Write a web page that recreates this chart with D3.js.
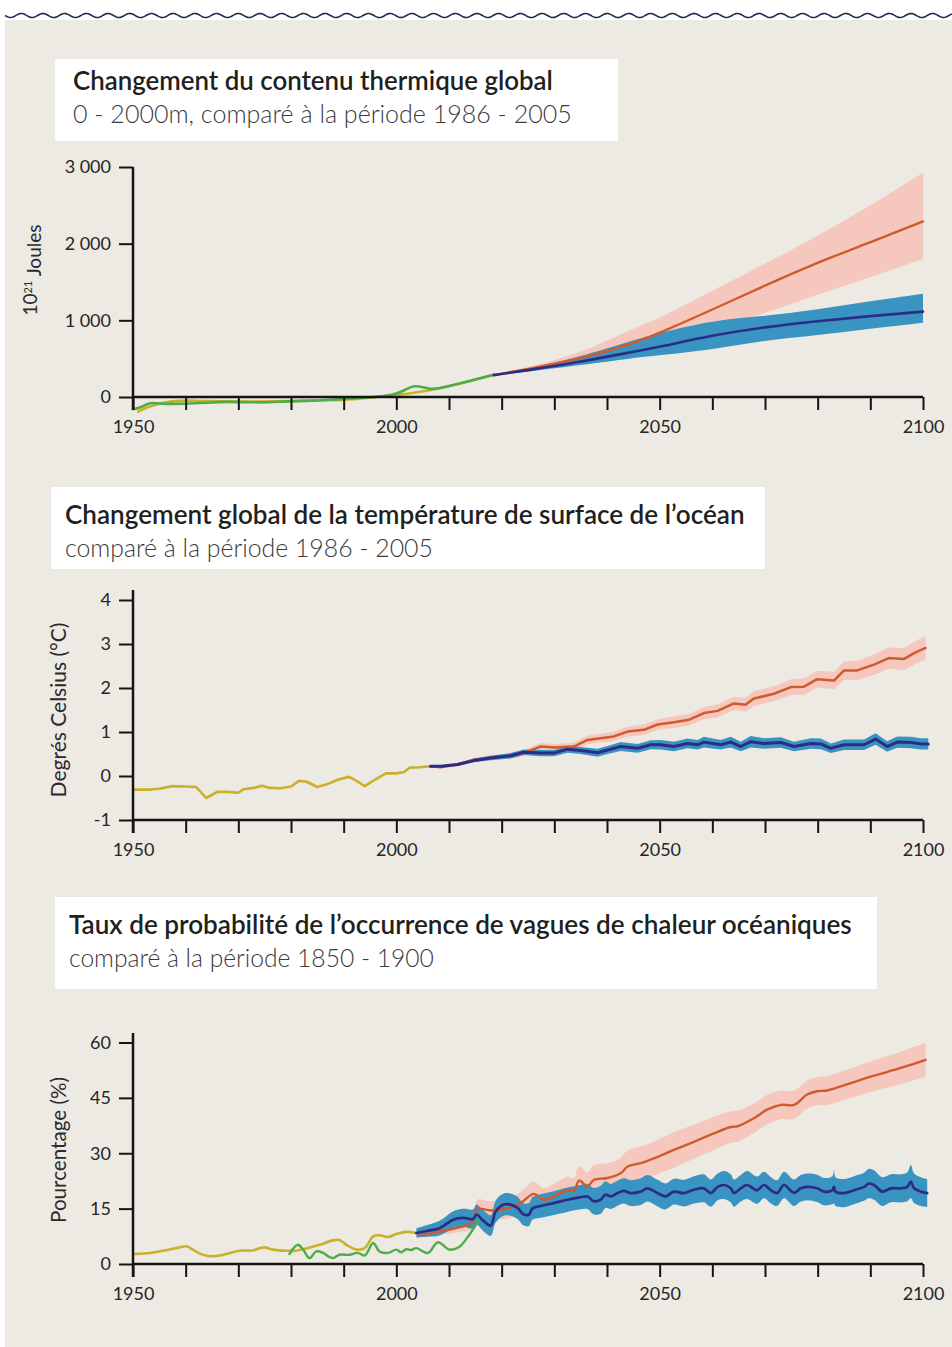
<!DOCTYPE html>
<html>
<head>
<meta charset="utf-8">
<script src="https://cdn.jsdelivr.net/npm/d3@7"></script>
<style>
  body { margin: 0; background: #fff; }
  text { font-family: Lato, "Open Sans", sans-serif; }
</style>
</head>
<body>
<script>
// ---- data : contenu thermique (10^21 J) ----
var ohcYellowYears = [1951, 1953, 1957, 1962, 1967, 1972, 1977, 1982, 1987, 1992, 1996, 2000, 2004, 2008, 2012, 2016, 2018.5];
var ohcYellow = [-190, -120, -50, -45, -60, -60, -55, -50, -45, -30, 0, 25, 60, 110, 170, 240, 290];
var ohcGreenYears = [1950, 1951.5, 1953.2, 1955, 1960, 1964, 1968, 1972, 1976, 1979, 1984, 1989, 1994, 2000, 2002, 2003.5, 2005, 2006.5, 2008, 2011, 2015, 2018.5];
var ohcGreen = [-160, -140, -65, -90, -90, -75, -60, -70, -70, -55, -50, -30, -10, 25, 110, 150, 130, 100, 110, 160, 230, 290];
var ohcProjYears = [2018.5, 2025, 2035, 2045, 2050, 2060, 2070, 2080, 2090, 2100];
var ohcHigh = [285, 365, 500, 697, 835, 1139, 1455, 1757, 2017, 2290];
var ohcHighLo = [285, 345, 441, 620, 700, 900, 1087, 1340, 1560, 1801];
var ohcHighHi = [285, 390, 567, 900, 1022, 1390, 1736, 2104, 2494, 2926];
var ohcLow = [285, 350, 459, 590, 653, 805, 913, 991, 1056, 1113];
var ohcLowLo = [285, 330, 416, 510, 545, 619, 740, 805, 892, 970];
var ohcLowHi = [285, 370, 524, 740, 835, 1000, 1056, 1139, 1251, 1347];
var ohcTicks = [0, 1000, 2000, 3000];
var ohcTickLabels = ["0", "1 000", "2 000", "3 000"];

// ---- data : température de surface (°C) ----
var sstObsYears = [1950, 1953, 1955, 1957.5, 1960, 1962, 1963.9, 1966, 1968, 1970, 1971, 1973, 1974.5, 1976, 1978, 1980, 1981.5, 1983, 1985, 1987, 1989, 1991, 1992, 1994, 1996, 1998, 2000, 2001.5, 2002.5, 2004.5, 2006.5];
var sstObs = [-0.31, -0.31, -0.29, -0.23, -0.24, -0.25, -0.5, -0.36, -0.36, -0.38, -0.3, -0.27, -0.22, -0.27, -0.28, -0.24, -0.11, -0.13, -0.25, -0.18, -0.08, -0.02, -0.08, -0.23, -0.08, 0.06, 0.06, 0.09, 0.19, 0.2, 0.22];
var sstHighYears = [2006.5, 2008.4, 2011.6, 2014.7, 2017.9, 2021.7, 2024.2, 2027.4, 2029.9, 2033.7, 2036.3, 2038.8, 2041.3, 2043.9, 2047.0, 2049.6, 2052.7, 2055.6, 2058.4, 2061.0, 2064.1, 2066.3, 2067.9, 2071.7, 2074.9, 2077.4, 2079.9, 2083.1, 2085.0, 2087.5, 2090.7, 2093.5, 2096.4, 2098.6, 2100.5];
var sstHigh = [0.22, 0.20, 0.26, 0.37, 0.42, 0.46, 0.52, 0.67, 0.65, 0.67, 0.82, 0.86, 0.90, 1.01, 1.05, 1.17, 1.22, 1.28, 1.43, 1.48, 1.65, 1.62, 1.76, 1.87, 2.02, 2.03, 2.20, 2.17, 2.40, 2.40, 2.53, 2.68, 2.66, 2.81, 2.91];
var sstHighSpread = [0.01, 0.02, 0.03, 0.04, 0.05, 0.06, 0.07, 0.08, 0.08, 0.09, 0.10, 0.10, 0.11, 0.11, 0.12, 0.12, 0.13, 0.13, 0.14, 0.15, 0.15, 0.16, 0.17, 0.17, 0.18, 0.19, 0.19, 0.20, 0.21, 0.22, 0.23, 0.24, 0.25, 0.26, 0.27];
var sstLowYears = [2006.5, 2008.4, 2011.6, 2014.7, 2017.9, 2021.7, 2024.2, 2027.4, 2029.9, 2032.5, 2035.0, 2038.2, 2040.1, 2042.6, 2045.8, 2048.3, 2050.2, 2052.7, 2055.3, 2057.2, 2058.4, 2061.6, 2063.5, 2065.4, 2067.3, 2069.8, 2073.0, 2075.5, 2078.7, 2080.6, 2082.5, 2085.0, 2088.8, 2091.0, 2093.2, 2095.1, 2097.7, 2099.6, 2101.0];
var sstLow = [0.22, 0.22, 0.26, 0.35, 0.41, 0.46, 0.54, 0.52, 0.52, 0.61, 0.58, 0.53, 0.59, 0.67, 0.63, 0.71, 0.71, 0.67, 0.74, 0.71, 0.77, 0.71, 0.77, 0.67, 0.78, 0.74, 0.76, 0.67, 0.74, 0.73, 0.63, 0.71, 0.71, 0.84, 0.67, 0.77, 0.76, 0.73, 0.73];
var sstLowSpread = [0.01, 0.02, 0.03, 0.04, 0.05, 0.06, 0.06, 0.07, 0.07, 0.08, 0.08, 0.09, 0.09, 0.10, 0.10, 0.10, 0.11, 0.11, 0.11, 0.11, 0.12, 0.11, 0.12, 0.11, 0.13, 0.12, 0.12, 0.11, 0.12, 0.12, 0.11, 0.12, 0.12, 0.13, 0.12, 0.13, 0.13, 0.13, 0.13];
var sstTicks = [-1, 0, 1, 2, 3, 4];

// ---- data : vagues de chaleur (%) ----
var mhwObsYears = [1950.2, 1953.2, 1956.3, 1958.9, 1960.1, 1961.4, 1962.7, 1964.6, 1966.5, 1968.4, 1970.3, 1972.8, 1974.1, 1975.0, 1976.6, 1979.1, 1981.0, 1982.9, 1985.4, 1988.0, 1989.2, 1990.5, 1992.4, 1994.0, 1995.6, 1996.8, 1998.4, 2000.0, 2001.9, 2003.8];
var mhwObs = [2.7, 3.0, 3.7, 4.5, 4.8, 3.9, 2.8, 2.1, 2.3, 3.0, 3.6, 3.7, 4.3, 4.5, 3.9, 3.6, 3.6, 4.2, 5.2, 6.4, 6.5, 5.2, 3.9, 4.3, 7.5, 7.8, 7.3, 8.1, 8.7, 8.4];
var mhwSatYears = [1979.7, 1981.3, 1982.3, 1983.5, 1984.8, 1986.1, 1987.3, 1988.0, 1989.2, 1991.1, 1992.7, 1994.0, 1995.6, 1996.8, 1998.4, 2000.0, 2000.9, 2001.9, 2002.8, 2003.8, 2006.0, 2007.9, 2010.1, 2012.0, 2013.9, 2015.8, 2016.2];
var mhwSat = [2.7, 5.2, 3.9, 1.6, 3.4, 3.0, 1.9, 1.6, 2.5, 2.5, 3.0, 2.3, 5.7, 3.4, 3.0, 3.9, 3.2, 4.0, 3.8, 4.3, 3.0, 5.9, 3.9, 4.7, 8.0, 12.0, 12.6];
var mhwHighYears = [2004.4, 2008.2, 2012.0, 2013.9, 2014.7, 2015.4, 2017.9, 2021.1, 2023.6, 2026.1, 2028.0, 2030.6, 2032.5, 2033.7, 2034.7, 2036.3, 2037.5, 2040.1, 2042.6, 2043.9, 2046.4, 2048.9, 2052.7, 2056.5, 2060.3, 2063.5, 2064.7, 2067.9, 2070.4, 2073.0, 2075.5, 2078.0, 2079.9, 2081.8, 2086.3, 2090.7, 2095.8, 2100.5];
var mhwHigh = [7.7, 8.8, 9.9, 10.9, 12.0, 14.9, 14.5, 15.1, 16.5, 19.0, 17.4, 18.8, 20.1, 19.7, 22.6, 21.0, 22.8, 23.3, 24.6, 26.4, 27.3, 28.6, 30.9, 33.1, 35.4, 37.1, 37.3, 39.5, 41.8, 43.1, 43.1, 45.9, 46.8, 47.0, 49.0, 51.0, 53.1, 55.3];
var mhwHighSpread = [0.3, 0.8, 1.3, 1.8, 2.2, 2.5, 2.5, 2.8, 3.0, 3.3, 3.2, 3.5, 3.6, 3.6, 3.8, 3.8, 4.0, 4.0, 4.2, 4.4, 4.5, 4.6, 4.8, 4.6, 4.5, 4.3, 4.2, 4.0, 4.0, 3.9, 3.8, 3.8, 3.8, 3.9, 4.0, 4.2, 4.4, 4.6];
var mhwLowYears = [2003.8, 2006.0, 2008.2, 2010.8, 2012.7, 2014.6, 2015.2, 2016.6, 2017.9, 2018.9, 2020.4, 2021.7, 2023.0, 2024.2, 2025.2, 2025.8, 2027.4, 2029.9, 2032.5, 2035.0, 2036.3, 2037.5, 2038.8, 2039.7, 2040.7, 2042.0, 2043.2, 2044.5, 2046.4, 2047.7, 2049.6, 2051.1, 2052.7, 2054.6, 2056.5, 2058.4, 2059.7, 2061.0, 2062.2, 2063.5, 2064.1, 2065.4, 2066.6, 2068.5, 2069.8, 2071.1, 2072.3, 2073.6, 2075.5, 2076.8, 2078.0, 2079.9, 2081.2, 2082.8, 2083.1, 2083.4, 2085.0, 2086.9, 2088.8, 2089.7, 2090.7, 2092.3, 2093.9, 2095.8, 2097.0, 2097.7, 2098.3, 2099.6, 2100.8];
var mhwLow = [8.4, 9.0, 9.7, 12.0, 12.5, 12.2, 13.4, 11.6, 10.4, 14.3, 16.1, 16.1, 15.2, 13.4, 13.4, 15.0, 15.7, 16.5, 17.4, 18.1, 18.3, 17.0, 17.4, 18.8, 18.3, 19.2, 19.8, 19.2, 19.6, 20.5, 19.2, 18.3, 19.6, 19.2, 20.1, 20.5, 19.2, 20.9, 21.4, 20.5, 19.2, 20.5, 21.4, 20.0, 21.4, 20.0, 19.2, 21.4, 19.3, 20.5, 20.9, 20.5, 19.6, 20.0, 20.9, 19.6, 19.2, 20.0, 20.9, 21.8, 21.4, 19.6, 20.5, 20.5, 20.9, 22.3, 20.5, 19.6, 19.2];
var mhwLowSpread = [1.2, 1.6, 2.0, 2.3, 2.5, 2.6, 2.7, 2.8, 2.8, 3.0, 3.0, 3.0, 3.0, 3.0, 3.1, 3.1, 3.2, 3.2, 3.3, 3.3, 3.4, 3.6, 3.8, 3.6, 3.4, 3.4, 3.4, 3.5, 3.6, 3.6, 3.6, 3.5, 3.5, 3.6, 3.7, 3.8, 3.7, 3.6, 3.8, 3.8, 3.7, 3.6, 3.8, 3.7, 3.6, 3.6, 3.5, 3.6, 3.6, 3.6, 3.6, 3.7, 3.7, 3.8, 4.5, 3.9, 3.8, 3.8, 3.8, 4.0, 4.0, 3.9, 3.8, 3.8, 3.9, 4.5, 4.0, 3.9, 3.8];
var mhwTicks = [0, 15, 30, 45, 60];

var xTicks = d3.range(1950, 2101, 10);
var xLabels = [1950, 2000, 2050, 2100];

var colYellow = "#C9B12B", colGreen = "#4DAD4A", colRed = "#CF5A2D", colPink = "#F6C8BD",
    colBlue = "#3A94C2", colNavy = "#2D2B86", colAxis = "#141414", colBg = "#EDE9E3";

var W = 952, H = 1347;
var svg = d3.select("body").append("svg")
    .attr("width", W)
    .attr("height", H);

svg.append("rect")
    .attr("x", 5).attr("y", 20)
    .attr("width", W - 5).attr("height", H - 20)
    .attr("fill", colBg);

// bordure ondulée en haut
var wave = d3.line()
    .x(function (d) { return d; })
    .y(function (d) { return 15.5 + 2 * Math.sin((d - 5) * 2 * Math.PI / 21.7); });
svg.append("path")
    .attr("d", wave(d3.range(5, W + 1, 1)))
    .attr("fill", "none")
    .attr("stroke", "#1E2B52")
    .attr("stroke-width", 1.6);

function zip(years, vals) {
    return years.map(function (y, i) { return { x: y, v: vals[i] }; });
}
function zipBand(years, lo, hi) {
    return years.map(function (y, i) { return { x: y, lo: lo[i], hi: hi[i] }; });
}
function spreadBand(years, vals, spread) {
    return years.map(function (y, i) { return { x: y, lo: vals[i] - spread[i], hi: vals[i] + spread[i] }; });
}

function fitText(sel, target) {
    var fs = parseFloat(sel.style("font-size"));
    var len = sel.node().getComputedTextLength();
    sel.style("font-size", (fs * target / len) + "px");
}

function panel(o) {
    var x = d3.scaleLinear().domain([1950, 2100]).range([133, 923]);
    var y = d3.scaleLinear().domain(o.yDomain).range(o.yRange);
    var g = svg.append("g");

    // titre
    g.append("rect")
        .attr("x", o.box[0]).attr("y", o.box[1])
        .attr("width", o.box[2]).attr("height", o.box[3])
        .attr("fill", "#fff");
    var t1 = g.append("text")
        .attr("x", o.titleX).attr("y", o.titleY)
        .attr("fill", "#221F20")
        .style("font-size", "22px")
        .style("font-weight", 600)
        .text(o.title);
    fitText(t1, o.titleW);
    var t2 = g.append("text")
        .attr("x", o.titleX).attr("y", o.titleY + 33)
        .attr("fill", "#3C3A3A")
        .style("font-size", "21px")
        .style("font-weight", 300)
        .text(o.subtitle);
    fitText(t2, o.subW);

    // axe y : titre
    var yl = g.append("text")
        .attr("transform", "translate(" + o.ylabX + "," + o.ylabY + ") rotate(-90)")
        .attr("text-anchor", "middle")
        .attr("fill", "#2A2A2A")
        .style("font-size", o.ylabSize + "px")
        .style("font-weight", 400);
    o.ylab(yl);
    if (o.ylabW) fitText(yl, o.ylabW);

    // séries
    var area = d3.area()
        .curve(o.curve)
        .x(function (d) { return x(d.x); })
        .y0(function (d) { return y(d.lo); })
        .y1(function (d) { return y(d.hi); });
    var line = d3.line()
        .curve(o.curve)
        .x(function (d) { return x(d.x); })
        .y(function (d) { return y(d.v); });

    o.bands.forEach(function (b) {
        g.append("path").attr("d", area(b.data)).attr("fill", b.color);
    });
    o.lines.forEach(function (l) {
        g.append("path")
            .attr("d", line(l.data))
            .attr("fill", "none")
            .attr("stroke", l.color)
            .attr("stroke-width", l.width)
            .attr("stroke-linejoin", "round")
            .attr("stroke-linecap", "round");
    });

    // axes
    var y0 = y(o.yDomain[0]);
    var yAxis = d3.axisLeft(y)
        .tickValues(o.yTicks)
        .tickSize(14)
        .tickSizeOuter(0)
        .tickPadding(8)
        .tickFormat(function (d, i) { return o.yTickLabels ? o.yTickLabels[i] : d; });
    var ya = g.append("g").attr("transform", "translate(133,0)").call(yAxis);
    ya.select(".domain").remove();

    var xAxis = d3.axisBottom(x)
        .tickValues(xTicks)
        .tickSize(13)
        .tickSizeOuter(0)
        .tickPadding(10)
        .tickFormat(function (d) { return xLabels.indexOf(d) >= 0 ? d : ""; });
    var xa = g.append("g").attr("transform", "translate(0," + y0 + ")").call(xAxis);
    xa.select(".domain").remove();

    [ya, xa].forEach(function (a) {
        a.selectAll("line").attr("stroke", colAxis).attr("stroke-width", 2);
        a.selectAll("text")
            .attr("fill", "#262626")
            .style("font-family", "Lato, sans-serif")
            .style("font-size", "18px")
            .style("font-weight", 400);
    });

    g.append("line")
        .attr("x1", x(1950)).attr("x2", x(2100))
        .attr("y1", y0).attr("y2", y0)
        .attr("stroke", colAxis).attr("stroke-width", 2.5);
    g.append("line")
        .attr("x1", x(1950)).attr("x2", x(1950))
        .attr("y1", o.axisTop).attr("y2", y0 + 13)
        .attr("stroke", colAxis).attr("stroke-width", 2.5);
}

// 1 : contenu thermique
panel({
    box: [55, 59, 563, 82], titleX: 73, titleY: 90, titleW: 480, subW: 499,
    title: "Changement du contenu thermique global",
    subtitle: "0 - 2000m, comparé à la période 1986 - 2005",
    yDomain: [0, 3000], yRange: [397, 167], axisTop: 167,
    yTicks: ohcTicks, yTickLabels: ohcTickLabels,
    ylabX: 37, ylabY: 270, ylabSize: 19,
    ylab: function (t) {
        t.append("tspan").text("10");
        t.append("tspan").attr("dy", "-0.45em").style("font-size", "11px").text("21");
        t.append("tspan").attr("dy", "0.45em").text(" Joules");
    },
    curve: d3.curveBasis,
    bands: [
        { data: zipBand(ohcProjYears, ohcHighLo, ohcHighHi), color: colPink },
        { data: zipBand(ohcProjYears, ohcLowLo, ohcLowHi), color: colBlue }
    ],
    lines: [
        { data: zip(ohcYellowYears, ohcYellow), color: colYellow, width: 2.6 },
        { data: zip(ohcGreenYears, ohcGreen), color: colGreen, width: 2.6 },
        { data: zip(ohcProjYears, ohcHigh), color: colRed, width: 2.4 },
        { data: zip(ohcProjYears, ohcLow), color: colNavy, width: 2.6 }
    ]
});

// 2 : température de surface
panel({
    box: [51, 487, 714, 82], titleX: 65, titleY: 524, titleW: 680, subW: 368,
    title: "Changement global de la température de surface de l’océan",
    subtitle: "comparé à la période 1986 - 2005",
    yDomain: [-1, 4], yRange: [820, 600], axisTop: 590,
    yTicks: sstTicks,
    ylabX: 66, ylabY: 710, ylabSize: 19, ylabW: 175,
    ylab: function (t) { t.text("Degrés Celsius (°C)"); },
    curve: d3.curveLinear,
    bands: [
        { data: spreadBand(sstHighYears, sstHigh, sstHighSpread), color: colPink },
        { data: spreadBand(sstLowYears, sstLow, sstLowSpread), color: colBlue }
    ],
    lines: [
        { data: zip(sstObsYears, sstObs), color: colYellow, width: 2.6 },
        { data: zip(sstHighYears, sstHigh), color: colRed, width: 2.5 },
        { data: zip(sstLowYears, sstLow), color: colNavy, width: 3 }
    ]
});

// 3 : vagues de chaleur
panel({
    box: [55, 897, 822, 92], titleX: 69, titleY: 934, titleW: 783, subW: 365,
    title: "Taux de probabilité de l’occurrence de vagues de chaleur océaniques",
    subtitle: "comparé à la période 1850 - 1900",
    yDomain: [0, 60], yRange: [1264, 1042.5], axisTop: 1033,
    yTicks: mhwTicks,
    ylabX: 66, ylabY: 1150, ylabSize: 19, ylabW: 146,
    ylab: function (t) { t.text("Pourcentage (%)"); },
    curve: d3.curveCatmullRom,
    bands: [
        { data: spreadBand(mhwHighYears, mhwHigh, mhwHighSpread), color: colPink },
        { data: spreadBand(mhwLowYears, mhwLow, mhwLowSpread), color: colBlue }
    ],
    lines: [
        { data: zip(mhwObsYears, mhwObs), color: colYellow, width: 2.6 },
        { data: zip(mhwSatYears, mhwSat), color: colGreen, width: 2.4 },
        { data: zip(mhwHighYears, mhwHigh), color: colRed, width: 2.4 },
        { data: zip(mhwLowYears, mhwLow), color: colNavy, width: 2.7 }
    ]
});
</script>
</body>
</html>
